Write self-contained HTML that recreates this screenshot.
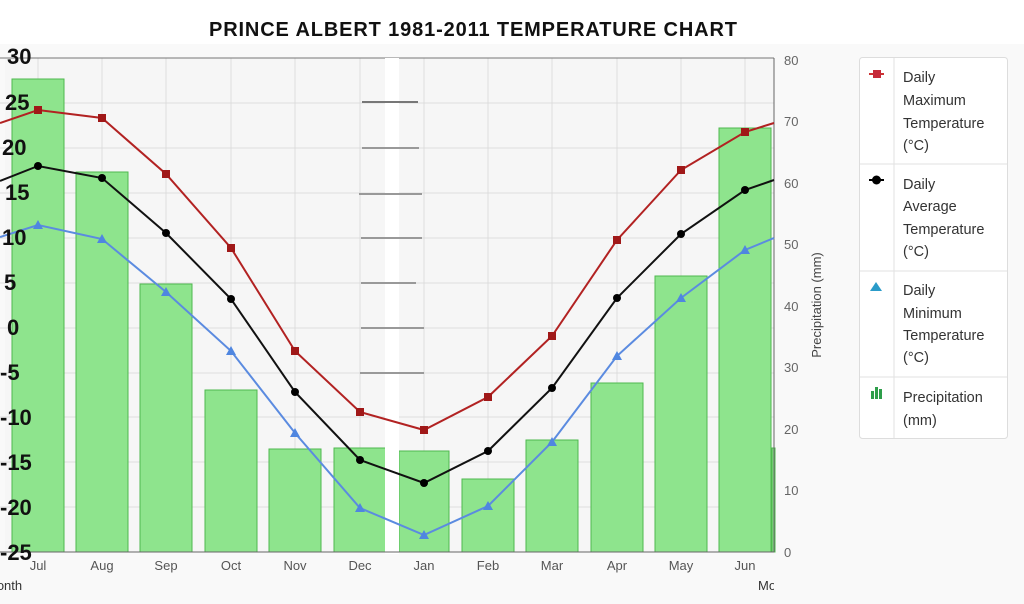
<!DOCTYPE html>
<html><head><meta charset="utf-8"><style>
body{margin:0;width:1024px;height:599px;background:#f9f9f9;overflow:hidden;font-family:"Liberation Sans",sans-serif}
</style></head><body>
<svg width="1024" height="599" xmlns="http://www.w3.org/2000/svg" font-family="Liberation Sans, sans-serif">
<rect width="1024" height="599" fill="#f9f9f9"/>
<rect x="0" y="0" width="1024" height="44" fill="#ffffff"/>
<text x="473" y="36" text-anchor="middle" font-size="20" font-weight="bold" fill="#111" textLength="528">PRINCE ALBERT 1981-2011 TEMPERATURE CHART</text>
<rect x="5" y="58" width="769" height="494" fill="#f6f6f6"/>
<g stroke="#ddd" stroke-width="1">
<line x1="0" y1="103" x2="774" y2="103"/><line x1="0" y1="148" x2="774" y2="148"/><line x1="0" y1="193" x2="774" y2="193"/><line x1="0" y1="238" x2="774" y2="238"/><line x1="0" y1="283" x2="774" y2="283"/><line x1="0" y1="328" x2="774" y2="328"/><line x1="0" y1="373" x2="774" y2="373"/><line x1="0" y1="417" x2="774" y2="417"/><line x1="0" y1="462" x2="774" y2="462"/><line x1="0" y1="507" x2="774" y2="507"/>
<line x1="38" y1="58" x2="38" y2="552"/><line x1="102" y1="58" x2="102" y2="552"/><line x1="166" y1="58" x2="166" y2="552"/><line x1="231" y1="58" x2="231" y2="552"/><line x1="295" y1="58" x2="295" y2="552"/><line x1="360" y1="58" x2="360" y2="552"/><line x1="424" y1="58" x2="424" y2="552"/><line x1="488" y1="58" x2="488" y2="552"/><line x1="552" y1="58" x2="552" y2="552"/><line x1="617" y1="58" x2="617" y2="552"/><line x1="681" y1="58" x2="681" y2="552"/><line x1="745" y1="58" x2="745" y2="552"/>
</g>
<line x1="0" y1="58" x2="774" y2="58" stroke="#777"/>
<g fill="#8ee48d" stroke="#4fb84f" stroke-width="1">
<rect x="12" y="79" width="52" height="473"/><rect x="76" y="172" width="52" height="380"/><rect x="140" y="284" width="52" height="268"/><rect x="205" y="390" width="52" height="162"/><rect x="269" y="449" width="52" height="103"/><rect x="334" y="448" width="52" height="104"/><rect x="399" y="451" width="50" height="101"/><rect x="462" y="479" width="52" height="73"/><rect x="526" y="440" width="52" height="112"/><rect x="591" y="383" width="52" height="169"/><rect x="655" y="276" width="52" height="276"/><rect x="719" y="128" width="52" height="424"/><rect x="772" y="448" width="3" height="104"/>
</g>
<rect x="385" y="58" width="14" height="496" fill="#fff"/>
<g stroke="#999" stroke-width="2"><line x1="362" y1="102" x2="418" y2="102" stroke="#777"/><line x1="362" y1="148" x2="419" y2="148"/><line x1="359" y1="194" x2="422" y2="194"/><line x1="361" y1="238" x2="422" y2="238"/><line x1="361" y1="283" x2="416" y2="283"/><line x1="361" y1="328" x2="424" y2="328"/><line x1="360" y1="373" x2="424" y2="373"/></g>
<line x1="0" y1="552" x2="774" y2="552" stroke="#666"/>
<line x1="774" y1="58" x2="774" y2="552" stroke="#666"/>
<polyline fill="none" stroke="#b22222" stroke-width="2" points="0,123 38,110 102,118 166,174 231,248 295,351 360,412 424,430 488,397 552,336 617,240 681,170 745,132 774,123"/>
<polyline fill="none" stroke="#111" stroke-width="2" points="0,181 38,166 102,178 166,233 231,299 295,392 360,460 424,483 488,451 552,388 617,298 681,234 745,190 774,180"/>
<polyline fill="none" stroke="#5b8be0" stroke-width="2" points="0,237 38,225 102,239 166,292 231,351 295,433 360,508 424,535 488,506 552,442 617,356 681,298 745,250 774,238"/>
<g fill="#a01818">
<rect x="34" y="106" width="8" height="8"/><rect x="98" y="114" width="8" height="8"/><rect x="162" y="170" width="8" height="8"/><rect x="227" y="244" width="8" height="8"/><rect x="291" y="347" width="8" height="8"/><rect x="356" y="408" width="8" height="8"/><rect x="420" y="426" width="8" height="8"/><rect x="484" y="393" width="8" height="8"/><rect x="548" y="332" width="8" height="8"/><rect x="613" y="236" width="8" height="8"/><rect x="677" y="166" width="8" height="8"/><rect x="741" y="128" width="8" height="8"/>
</g>
<g fill="#000">
<circle cx="38" cy="166" r="4"/><circle cx="102" cy="178" r="4"/><circle cx="166" cy="233" r="4"/><circle cx="231" cy="299" r="4"/><circle cx="295" cy="392" r="4"/><circle cx="360" cy="460" r="4"/><circle cx="424" cy="483" r="4"/><circle cx="488" cy="451" r="4"/><circle cx="552" cy="388" r="4"/><circle cx="617" cy="298" r="4"/><circle cx="681" cy="234" r="4"/><circle cx="745" cy="190" r="4"/>
</g>
<g fill="#4f86e0">
<path d="M38 220l5 9h-10z"/><path d="M102 234l5 9h-10z"/><path d="M166 287l5 9h-10z"/><path d="M231 346l5 9h-10z"/><path d="M295 428l5 9h-10z"/><path d="M360 503l5 9h-10z"/><path d="M424 530l5 9h-10z"/><path d="M488 501l5 9h-10z"/><path d="M552 437l5 9h-10z"/><path d="M617 351l5 9h-10z"/><path d="M681 293l5 9h-10z"/><path d="M745 245l5 9h-10z"/>
</g>
<g font-size="22" fill="#111" font-weight="bold">
<text x="7" y="64">30</text><text x="5" y="110">25</text><text x="2" y="155">20</text><text x="5" y="200">15</text><text x="2" y="245">10</text><text x="4" y="290">5</text><text x="7" y="335">0</text><text x="0" y="380">-5</text><text x="0" y="425">-10</text><text x="0" y="470">-15</text><text x="0" y="515">-20</text><text x="0" y="560">-25</text>
</g>
<g font-size="13" fill="#555" text-anchor="middle">
<text x="38" y="570">Jul</text><text x="102" y="570">Aug</text><text x="166" y="570">Sep</text><text x="231" y="570">Oct</text><text x="295" y="570">Nov</text><text x="360" y="570">Dec</text><text x="424" y="570">Jan</text><text x="488" y="570">Feb</text><text x="552" y="570">Mar</text><text x="617" y="570">Apr</text><text x="681" y="570">May</text><text x="745" y="570">Jun</text>
</g>
<text x="-14" y="590" font-size="13" fill="#333">Month</text>
<text x="758" y="590" font-size="13" fill="#333">Mo</text>
<rect x="774" y="560" width="250" height="39" fill="#f9f9f9"/>
<g font-size="13" fill="#666">
<text x="784" y="65">80</text><text x="784" y="126">70</text><text x="784" y="188">60</text><text x="784" y="249">50</text><text x="784" y="311">40</text><text x="784" y="372">30</text><text x="784" y="434">20</text><text x="784" y="495">10</text><text x="784" y="557">0</text>
</g>
<text transform="translate(821,305) rotate(-90)" text-anchor="middle" font-size="13" fill="#444">Precipitation (mm)</text>
<rect x="859.5" y="57.5" width="148" height="381" rx="3" fill="#fff" stroke="#ddd"/>
<g stroke="#e2e2e2"><line x1="894" y1="58" x2="894" y2="438"/><line x1="860" y1="164" x2="1007" y2="164"/><line x1="860" y1="271" x2="1007" y2="271"/><line x1="860" y1="377" x2="1007" y2="377"/></g>
<line x1="869" y1="74" x2="884" y2="74" stroke="#c33" stroke-width="2"/><rect x="873" y="70" width="8" height="8" fill="#c62a3a"/>
<line x1="869" y1="180" x2="884" y2="180" stroke="#000" stroke-width="2"/><circle cx="876.5" cy="180" r="4.5" fill="#000"/>
<path d="M876 282l6 9h-12z" fill="#2a9bc9"/>
<g fill="#2e9e4a"><rect x="871" y="391" width="3" height="8"/><rect x="875" y="387" width="3" height="12"/><rect x="879" y="389" width="3" height="10"/></g>
<g font-size="14.5" fill="#333">
<text x="903" y="82">Daily</text><text x="903" y="105">Maximum</text><text x="903" y="128">Temperature</text><text x="903" y="150">(°C)</text>
<text x="903" y="189">Daily</text><text x="903" y="211">Average</text><text x="903" y="234">Temperature</text><text x="903" y="256">(°C)</text>
<text x="903" y="295">Daily</text><text x="903" y="318">Minimum</text><text x="903" y="340">Temperature</text><text x="903" y="362">(°C)</text>
<text x="903" y="402">Precipitation</text><text x="903" y="425">(mm)</text>
</g>
</svg>
</body></html>
